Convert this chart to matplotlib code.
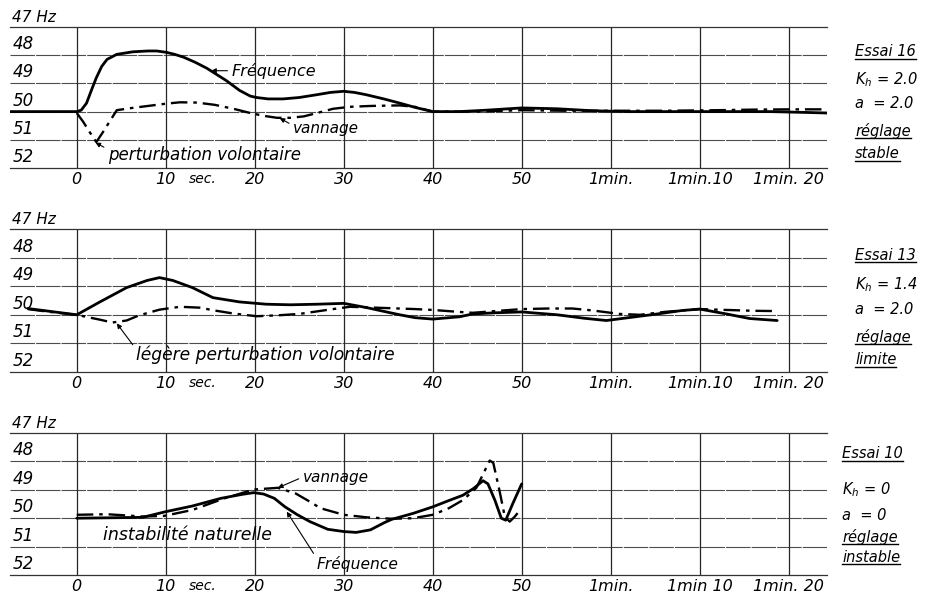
import matplotlib
matplotlib.use("Agg")
import matplotlib.pyplot as plt
import matplotlib.transforms as mtransforms
from matplotlib.lines import Line2D

plt.rcParams['font.family'] = ['DejaVu Sans']
plt.rcParams['font.style'] = 'italic'
plt.rcParams['mathtext.fontset'] = 'dejavusans'

# x axis (seconds) and y axis (Hz, drawn downwards)
x_ticks = [0, 10, 20, 30, 40, 50, 60, 70, 80]
labels_16 = ["0", "10", "20", "30", "40", "50", "1min.", "1min.10", "1min. 20"]
labels_13 = ["0", "10", "20", "30", "40", "50", "1min.", "1min.10", "1min. 20"]
labels_10 = ["0", "10", "20", "30", "40", "50", "1min.", "1min 10", "1min. 20"]
hz_levels = [47, 48, 49, 50, 51, 52]
hz_labels = ["47 Hz", "48", "49", "50", "51", "52"]

# Essai 16
t_freq16 = [-7.5, -2, 0, 0.5, 1.1, 1.7, 2.2, 2.8, 3.4, 4.5, 6.3, 8, 9, 10.1, 11, 12,
            13.3, 14.6, 15.7, 16.8, 18.3, 19.5, 20.2, 21.5, 23.2, 25, 27, 28.5, 30,
            31.2, 32.5, 34.5, 36.3, 38, 40, 43, 46, 50, 54, 58, 62, 66, 70, 74, 78, 82, 84.3]
freq16 = [50, 50, 50, 49.95, 49.7, 49.2, 48.8, 48.4, 48.15, 47.97, 47.88, 47.85, 47.85,
          47.9, 47.97, 48.07, 48.25, 48.46, 48.68, 48.9, 49.25, 49.45, 49.5, 49.55, 49.55,
          49.5, 49.4, 49.32, 49.28, 49.32, 49.4, 49.55, 49.7, 49.85, 50, 50, 49.95, 49.87,
          49.9, 49.97, 50, 50, 50, 50, 50, 50.03, 50.05]
t_vann16 = [0, 0.7, 1.5, 2.2, 3.0, 3.8, 4.5, 6, 8, 10, 11.6, 13.5, 15.5, 17.6, 19.5, 21,
            22.5, 24, 25.5, 27, 28.8, 30.7, 33, 36.3, 38, 40, 45, 50, 55, 60, 66, 72, 76, 80, 84.3]
vann16 = [50.05, 50.35, 50.75, 51.08, 50.7, 50.3, 49.95, 49.88, 49.8, 49.72, 49.67, 49.68,
          49.76, 49.9, 50.05, 50.15, 50.22, 50.22, 50.17, 50.05, 49.9, 49.83, 49.8, 49.78,
          49.83, 50, 50, 49.95, 49.97, 49.97, 49.97, 49.95, 49.93, 49.92, 49.92]

# Essai 13
t_freq13 = [-5.5, -3, 0, 2.6, 5.6, 7.9, 9.3, 10.8, 13, 15.3, 18.3, 21.3, 24, 27, 30, 32.6,
            34.5, 36.3, 38, 40, 43, 44.5, 47, 50, 54, 57, 59.5, 62, 65, 68, 70, 73, 75.6, 78.7]
freq13 = [49.78, 49.88, 50, 49.55, 49.05, 48.8, 48.7, 48.8, 49.05, 49.4, 49.55, 49.63, 49.65,
          49.63, 49.6, 49.75, 49.88, 50.0, 50.1, 50.15, 50.07, 49.97, 49.93, 49.9, 50.0, 50.12,
          50.2, 50.1, 49.98, 49.85, 49.8, 49.97, 50.13, 50.2]
t_vann13 = [-5.5, -3, 0, 1.5, 2.6, 4, 5.6, 7, 9.3, 11.6, 13.8, 15.5, 17.5, 20.2, 22.5, 25,
            28.8, 30.7, 34.4, 38, 40, 43, 44.5, 47, 50, 53, 55.7, 58, 61, 63.3, 66, 70, 73, 76, 78.7]
vann13 = [49.8, 49.9, 50, 50.1, 50.17, 50.27, 50.2, 50.02, 49.82, 49.72, 49.75, 49.85, 49.95,
          50.05, 50.02, 49.97, 49.8, 49.72, 49.76, 49.8, 49.83, 49.9, 49.93, 49.87, 49.8, 49.78,
          49.78, 49.85, 49.97, 50.0, 49.9, 49.8, 49.83, 49.86, 49.87]

# Essai 10
t_freq10 = [0, 7.4, 10, 13, 16.2, 18.6, 19.9, 21, 22.2, 23.4, 24.8, 26.2, 28.2, 30, 31.4, 33,
            34.6, 35.4, 37.8, 40, 41.8, 43.4, 44.6, 45.65, 46.2, 47, 47.7, 48.2, 49.0, 50.0]
freq10 = [50.0, 49.97, 49.77, 49.57, 49.3, 49.16, 49.1, 49.15, 49.3, 49.6, 49.88, 50.12, 50.39,
          50.47, 50.5, 50.41, 50.15, 50.04, 49.83, 49.6, 49.38, 49.19, 48.95, 48.68, 48.79,
          49.38, 50.0, 50.07, 49.48, 48.79]
t_vann10 = [0, 3.4, 7.4, 9.8, 13, 16.6, 19.9, 22.6, 24.6, 26.2, 27.4, 30, 32.6, 35.4, 37.8,
            40, 41.8, 43.4, 44.9, 45.5, 46.4, 46.8, 47.5, 48.1, 48.65, 49.2, 49.8]
vann10 = [49.88, 49.86, 49.94, 49.92, 49.71, 49.3, 48.99, 48.93, 49.13, 49.42, 49.65, 49.88,
          49.97, 50.02, 50.0, 49.88, 49.65, 49.36, 48.93, 48.55, 47.97, 48.05, 49.03, 49.95,
          50.12, 49.95, 49.72]

panels = [
    dict(rect=[10, 27, 827, 168], labels=labels_16, tf=t_freq16, f=freq16, tv=t_vann16, v=vann16,
         notes=[("Fréquence", (15.1, 48.55), (17.4, 48.55), (0, 0.5), 11.5),
                ("vannage", (22.8, 50.23), (24.3, 50.6), (0, 0.7), 11),
                ("perturbation volontaire", (2.1, 51.1), (3.5, 51.53), (0, 0.8), 12)],
         side=(855, [("Essai 16", 52, True), ("$K_h$ = 2.0", 80, False), ("a  = 2.0", 104, False),
                     ("réglage", 131, True), ("stable", 154, True)])),
    dict(rect=[10, 229, 827, 372], labels=labels_13, tf=t_freq13, f=freq13, tv=t_vann13, v=vann13,
         notes=[("légère perturbation volontaire", (4.5, 50.3), (6.7, 51.41), (0, 0.8), 12.3)],
         side=(855, [("Essai 13", 255, True), ("$K_h$ = 1.4", 285, False), ("a  = 2.0", 310, False),
                     ("réglage", 337, True), ("limite", 360, True)])),
    dict(rect=[10, 433, 827, 575], labels=labels_10, tf=t_freq10, f=freq10, tv=t_vann10, v=vann10,
         notes=[("vannage", (22.6, 48.93), (25.4, 48.55), (0, 0.5), 11),
                ("Fréquence", (23.6, 49.77), (27.0, 51.6), (0, 0.8), 11.2)],
         plain=[("instabilité naturelle", (3.0, 50.59))],
         side=(842, [("Essai 10", 454, True), ("$K_h$ = 0", 490, False), ("a  = 0", 515, False),
                     ("réglage", 537, True), ("instable", 557, True)])),
]

W, H = 926, 594
fig = plt.figure(figsize=(W / 100, H / 100), dpi=100)
underlined = []

for p in panels:
    x0, y0, x1, y1 = p["rect"]
    ax = fig.add_axes([x0 / W, 1 - y1 / H, (x1 - x0) / W, (y1 - y0) / H])
    ax.set_xlim(-7.5, 84.3)
    ax.set_ylim(52, 47)
    for s in ("left", "right"):
        ax.spines[s].set_visible(False)
    for s in ("top", "bottom"):
        ax.spines[s].set_linewidth(0.9)
        ax.spines[s].set_color("0.2")
        ax.spines[s].set_linestyle((0, (22, 1)))
    for lv in hz_levels[1:-1]:
        ax.axhline(lv, color="0.3", lw=0.8, ls=(0, (22, 1)), zorder=1)
    for xt in x_ticks:
        ax.axvline(xt, color="0.15", lw=0.9, zorder=1)
    ax.set_xticks(x_ticks)
    ax.set_xticklabels(p["labels"], fontsize=11.5)
    ax.set_yticks([])
    ax.tick_params(axis="x", length=0, pad=3)
    trans = mtransforms.blended_transform_factory(ax.transData, ax.transAxes)
    ax.text(14.2, -0.078, "sec.", transform=trans, fontsize=10, ha="center", va="center")
    ytrans = mtransforms.blended_transform_factory(ax.transAxes, ax.transData)
    for lv, lb in zip(hz_levels, hz_labels):
        ax.annotate(lb, (0.003, lv), xycoords=ytrans, xytext=(0, 1.5), textcoords="offset points",
                    fontsize=12 if lb != "47 Hz" else 11, ha="left", va="bottom",
                    annotation_clip=False)

    ax.plot(p["tf"], p["f"], color="k", lw=2.0, solid_capstyle="round", zorder=3)
    ax.plot(p["tv"], p["v"], color="k", lw=1.7, ls=(0, (7, 2.5, 1.5, 2.5)), zorder=3)

    for txt, xy, xyt, rel, fs in p["notes"]:
        ax.annotate(txt, xy=xy, xytext=xyt, fontsize=fs, ha="left", va="center",
                    arrowprops=dict(arrowstyle="-|>", lw=0.8, color="k", mutation_scale=7,
                                    relpos=rel, shrinkA=1, shrinkB=0))
    for txt, xy in p.get("plain", []):
        ax.text(xy[0], xy[1], txt, fontsize=12.5, ha="left", va="center")

    sx, items = p["side"]
    for txt, sy, ul in items:
        t = fig.text(sx / W, 1 - sy / H, txt, fontsize=10.5, ha="left", va="center")
        if ul:
            underlined.append(t)

fig.canvas.draw()
r = fig.canvas.get_renderer()
for t in underlined:
    bb = t.get_window_extent(r)
    yy = (bb.y0 + 1) / H
    fig.add_artist(Line2D([bb.x0 / W, bb.x1 / W], [yy, yy], color="k", lw=1.0))

fig.savefig("out.png", dpi=100)
